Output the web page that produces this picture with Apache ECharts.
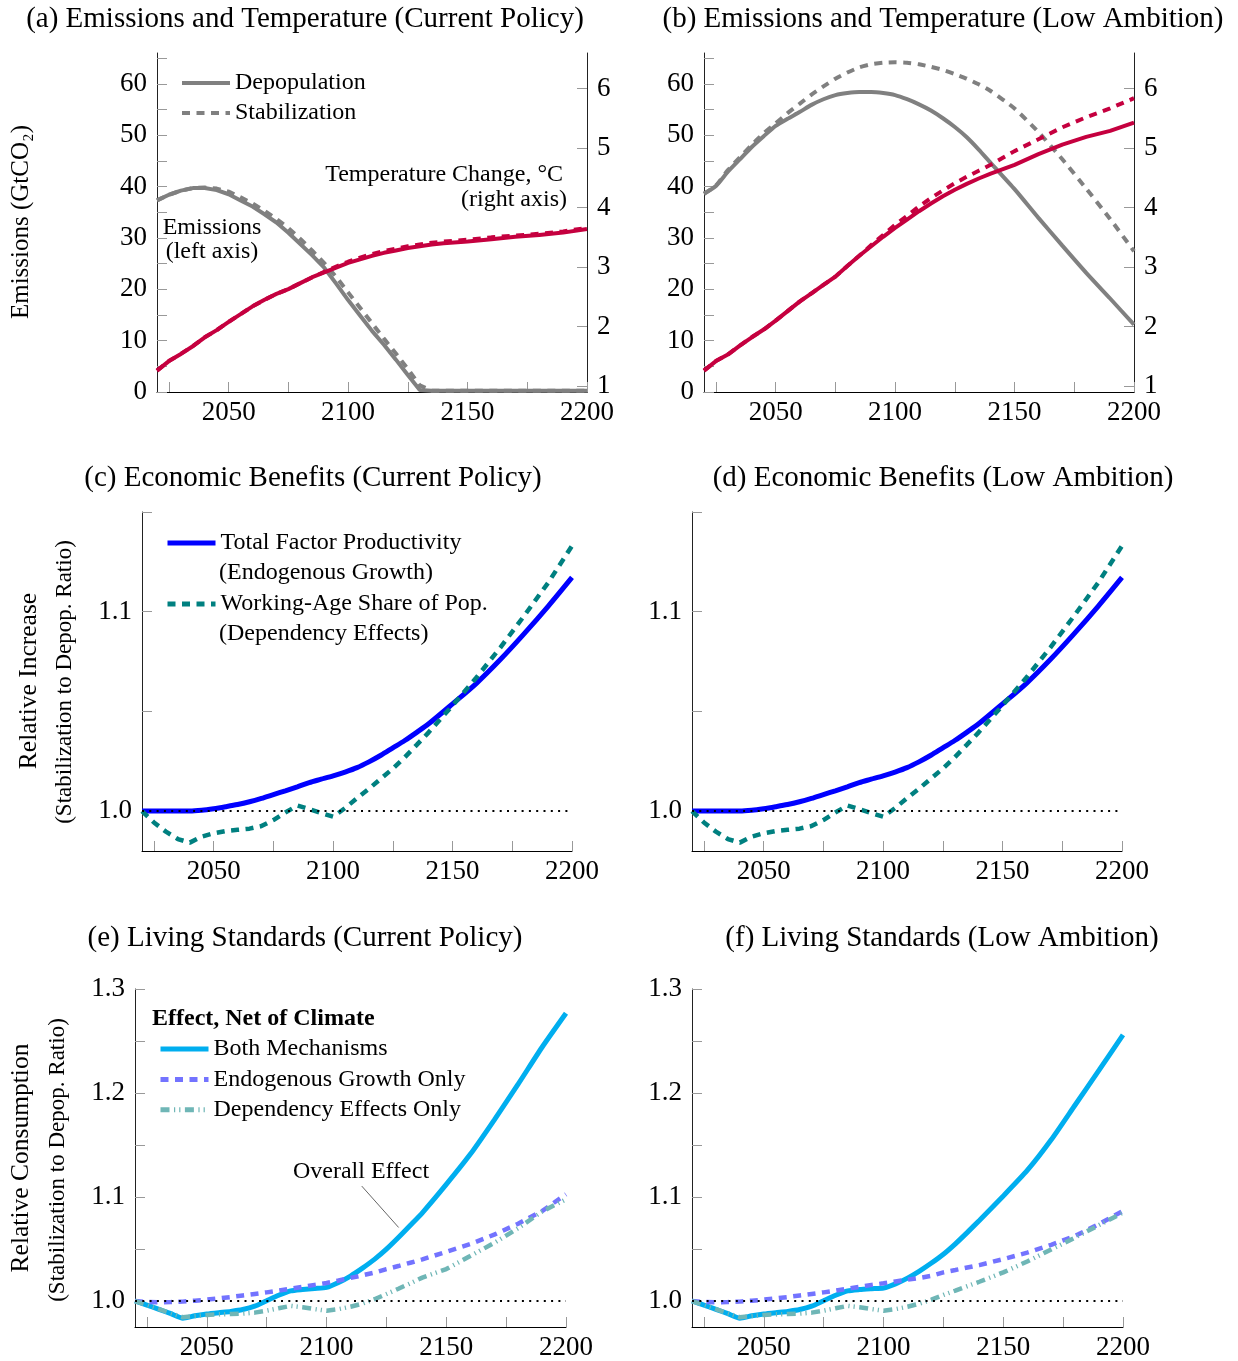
<!DOCTYPE html>
<html>
<head>
<meta charset="utf-8">
<title>Emissions, Economic Benefits and Living Standards</title>
<script src="https://cdn.jsdelivr.net/npm/echarts@6.0.0/dist/echarts.min.js"></script>
<style>
  html, body { margin: 0; padding: 0; background: #fff; }
  #chart { width: 1238px; height: 1361px; }
</style>
</head>
<body>
<div id="chart"></div>
<script>
// years shared by every panel
const years = [2020, 2025, 2030, 2035, 2040, 2045, 2050, 2055, 2060, 2065, 2070, 2075, 2080,
  2085, 2090, 2095, 2100, 2105, 2110, 2115, 2120, 2125, 2130, 2135, 2140,
  2150, 2160, 2170, 2180, 2190, 2200];

// (a) current policy: emissions (GtCO2) and temperature (°C)
const emisDepopA = [37.3, 38.4, 39.2, 39.7, 39.7, 39.3, 38.5, 37.3, 36.1, 34.6, 33.0, 31.0, 28.8,
  26.6, 24.2, 21.1, 17.9, 14.9, 11.9, 9.2, 6.3, 3.3, 0.4, 0.25, 0.25,
  0.25, 0.25, 0.25, 0.25, 0.25, 0.25];
const emisStabA = [37.3, 38.4, 39.2, 39.7, 39.8, 39.6, 39.0, 37.9, 36.7, 35.3, 33.7, 31.9, 29.8,
  27.5, 25.1, 22.4, 19.4, 16.4, 13.4, 10.4, 7.5, 4.5, 1.3, 0.25, 0.25,
  0.25, 0.25, 0.25, 0.25, 0.25, 0.25];
const tempDepopA = [1.26, 1.42, 1.54, 1.67, 1.82, 1.94, 2.08, 2.21, 2.34, 2.45, 2.55, 2.63, 2.73,
  2.83, 2.91, 2.99, 3.07, 3.13, 3.19, 3.24, 3.28, 3.32, 3.35, 3.38, 3.40,
  3.43, 3.47, 3.51, 3.54, 3.58, 3.64];
const tempStabA = [1.26, 1.42, 1.54, 1.67, 1.82, 1.94, 2.08, 2.21, 2.34, 2.45, 2.55, 2.63, 2.73,
  2.83, 2.92, 3.01, 3.09, 3.16, 3.22, 3.27, 3.31, 3.35, 3.38, 3.41, 3.43,
  3.46, 3.50, 3.53, 3.56, 3.60, 3.66];

// (b) low ambition
const emisDepopB = [38.6, 40.1, 42.9, 45.3, 47.7, 49.8, 51.8, 53.2, 54.5, 55.9, 57.0, 57.8, 58.2,
  58.4, 58.4, 58.2, 57.8, 57.0, 56.0, 54.8, 53.3, 51.6, 49.6, 47.2, 44.6,
  39.5, 33.9, 28.5, 23.2, 18.2, 13.1];
const emisStabB = [38.6, 40.2, 43.2, 45.7, 48.1, 50.4, 52.3, 54.3, 56.1, 57.9, 59.5, 61.0, 62.2,
  63.2, 63.8, 64.1, 64.2, 64.1, 63.8, 63.3, 62.7, 61.9, 61.0, 59.9, 58.6,
  55.2, 50.6, 45.3, 39.6, 33.7, 27.4];
const tempDepopB = [1.26, 1.42, 1.53, 1.68, 1.82, 1.95, 2.10, 2.26, 2.42, 2.56, 2.70, 2.84, 3.02,
  3.19, 3.35, 3.51, 3.66, 3.80, 3.94, 4.07, 4.19, 4.30, 4.40, 4.49, 4.57,
  4.72, 4.90, 5.06, 5.19, 5.29, 5.43];
const tempStabB = [1.26, 1.42, 1.53, 1.68, 1.82, 1.95, 2.10, 2.26, 2.42, 2.56, 2.70, 2.84, 3.02,
  3.19, 3.37, 3.54, 3.71, 3.86, 4.02, 4.16, 4.29, 4.41, 4.52, 4.62, 4.72,
  4.95, 5.15, 5.35, 5.52, 5.67, 5.84];

// (c) / (d) economic benefits, ratio stabilization / depopulation
const tfpC = [1.0000, 1.0000, 1.0000, 1.0000, 1.0000, 1.0004, 1.0012, 1.0022, 1.0033, 1.0047, 1.0064, 1.0083, 1.0102,
  1.0122, 1.0143, 1.0160, 1.0177, 1.0196, 1.0218, 1.0247, 1.0280, 1.0317, 1.0354, 1.0395, 1.0438,
  1.0538, 1.0641, 1.0760, 1.0890, 1.1027, 1.1172];
const workC = [1.0000, 0.9943, 0.9897, 0.9860, 0.9842, 0.9872, 0.9889, 0.9900, 0.9906, 0.9912, 0.9925, 0.9955, 0.9993,
  1.0028, 1.0010, 0.9990, 0.9972, 1.0015, 1.0065, 1.0112, 1.0163, 1.0213, 1.0270, 1.0332, 1.0395,
  1.0530, 1.0670, 1.0820, 1.0980, 1.1145, 1.1330];
const tfpD = [1.0000, 1.0000, 1.0000, 1.0000, 1.0000, 1.0004, 1.0012, 1.0022, 1.0033, 1.0047, 1.0064, 1.0083, 1.0102,
  1.0122, 1.0143, 1.0160, 1.0177, 1.0196, 1.0218, 1.0247, 1.0280, 1.0317, 1.0354, 1.0395, 1.0438,
  1.0538, 1.0641, 1.0760, 1.0890, 1.1027, 1.1172];
const workD = [1.0000, 0.9943, 0.9897, 0.9860, 0.9842, 0.9872, 0.9889, 0.9900, 0.9906, 0.9912, 0.9925, 0.9955, 0.9993,
  1.0028, 1.0010, 0.9990, 0.9972, 1.0015, 1.0065, 1.0112, 1.0163, 1.0213, 1.0270, 1.0332, 1.0395,
  1.0530, 1.0670, 1.0820, 1.0980, 1.1145, 1.1330];

// (e) / (f) living standards, relative consumption
const bothE = [1.0000, 0.9960, 0.9920, 0.9878, 0.9835, 0.9858, 0.9875, 0.9888, 0.9900, 0.9918, 0.9950, 1.0003, 1.0055,
  1.0097, 1.0110, 1.0120, 1.0131, 1.0178, 1.0240, 1.0316, 1.0400, 1.0498, 1.0610, 1.0728, 1.0848,
  1.1121, 1.1410, 1.1740, 1.2085, 1.2440, 1.2767];
const endoE = [1.0000, 0.9990, 0.9987, 0.9990, 0.9994, 1.0003, 1.0013, 1.0025, 1.0038, 1.0053, 1.0068, 1.0083, 1.0100,
  1.0119, 1.0137, 1.0155, 1.0173, 1.0197, 1.0222, 1.0247, 1.0273, 1.0307, 1.0336, 1.0368, 1.0400,
  1.0473, 1.0547, 1.0638, 1.0743, 1.0865, 1.1026];
const depE = [1.0000, 0.9961, 0.9922, 0.9882, 0.9843, 0.9855, 0.9866, 0.9871, 0.9876, 0.9879, 0.9888, 0.9907, 0.9930,
  0.9953, 0.9940, 0.9922, 0.9907, 0.9922, 0.9945, 0.9975, 1.0017, 1.0067, 1.0118, 1.0170, 1.0225,
  1.0307, 1.0432, 1.0558, 1.0700, 1.0860, 1.0978];
const bothF = [1.0000, 0.9960, 0.9920, 0.9878, 0.9835, 0.9858, 0.9875, 0.9888, 0.9900, 0.9918, 0.9950, 1.0003, 1.0055,
  1.0097, 1.0110, 1.0118, 1.0125, 1.0165, 1.0220, 1.0288, 1.0365, 1.0450, 1.0550, 1.0660, 1.0775,
  1.1010, 1.1255, 1.1550, 1.1885, 1.2220, 1.2559];
const endoF = [1.0000, 0.9990, 0.9987, 0.9990, 0.9994, 1.0003, 1.0013, 1.0025, 1.0038, 1.0053, 1.0068, 1.0083, 1.0100,
  1.0119, 1.0137, 1.0155, 1.0170, 1.0188, 1.0205, 1.0222, 1.0242, 1.0275, 1.0298, 1.0322, 1.0345,
  1.0403, 1.0465, 1.0540, 1.0625, 1.0740, 1.0866];
const depF = [1.0000, 0.9961, 0.9922, 0.9882, 0.9843, 0.9855, 0.9866, 0.9871, 0.9876, 0.9879, 0.9888, 0.9907, 0.9930,
  0.9953, 0.9940, 0.9922, 0.9907, 0.9922, 0.9945, 0.9975, 1.0013, 1.0058, 1.0100, 1.0143, 1.0185,
  1.0275, 1.0380, 1.0495, 1.0610, 1.0730, 1.0850];

// ticks and labels
const xTicks = [2025, 2050, 2075, 2100, 2125, 2150, 2175, 2200];
const xLabels = [2050, 2100, 2150, 2200];
const emisTicks = [0, 5, 10, 15, 20, 25, 30, 35, 40, 45, 50, 55, 60, 65];
const emisLabels = [0, 10, 20, 30, 40, 50, 60];
const tempTicks = [1, 2, 3, 4, 5, 6];
const benefitTicks = [1.0, 1.05, 1.1, 1.15];
const benefitLabels = [1.0, 1.1];
const consTicks = [1.0, 1.05, 1.1, 1.15, 1.2, 1.25, 1.3];
const consLabels = [1.0, 1.1, 1.2, 1.3];
const baseline = 1.0;
// arrow of the "Overall Effect" note, in data units of panel (e)
const arrowFrom = [2114.7, 1.1105];
const arrowTo = [2130.1, 1.0707];

const FONT = '"Liberation Serif", "DejaVu Serif", serif';
const GRAY = '#808080';
const RED = '#c5003f';
const BLUE = '#0000ff';
const TEAL = '#008080';
const CYAN = '#00aeef';
const LILAC = '#7373ff';
const LTEAL = '#6fb6b6';
const DASH = [8, 6.5];
const DASHDOT = [9, 4.5, 1.2, 4, 1.2, 4.5];

const pairs = vals => years.map((y, i) => [y, vals[i]]);

const fmt1 = v => v.toFixed(1);
const fmt0 = v => String(v);

function xAxisFor(gridIndex) {
  return {
    type: 'value', gridIndex, min: 2020, max: 2200,
    axisLine: { show: true, onZero: false, lineStyle: { color: '#000', width: 1 } },
    axisTick: { show: true, inside: true, length: 10, customValues: xTicks, lineStyle: { color: '#999' } },
    axisLabel: { customValues: xLabels, margin: 7, fontFamily: FONT, fontSize: 27, color: '#000', formatter: fmt0 },
    splitLine: { show: false }
  };
}

function yAxisFor(gridIndex, min, max, ticks, labels, fmt, position) {
  return {
    type: 'value', gridIndex, min, max, position: position || 'left',
    axisLine: { show: true, onZero: false, lineStyle: { color: '#222', width: 1 } },
    axisTick: { show: true, inside: true, length: 10, customValues: ticks, lineStyle: { color: '#999' } },
    axisLabel: { customValues: labels, margin: 10, fontFamily: FONT, fontSize: 27, color: '#000', formatter: fmt },
    splitLine: { show: false }
  };
}

function line(name, vals, xi, yi, color, width, type, extra) {
  return Object.assign({
    type: 'line', name, data: pairs(vals), xAxisIndex: xi, yAxisIndex: yi,
    symbol: 'none', showSymbol: false, animation: false, silent: true,
    lineStyle: { color, width, type: type || 'solid' },
    itemStyle: { color }
  }, extra || {});
}

const dotted = {
  silent: true, symbol: 'none', animation: false,
  label: { show: false },
  lineStyle: { color: '#000', width: 2, type: [2, 5.3] },
  data: [{ yAxis: baseline }]
};

function txt(x, y, text, size, align, extra) {
  const a = align || 'center';
  return Object.assign({
    type: 'text', x, y, silent: true,
    style: {
      text, fontFamily: FONT, fontSize: size, fill: '#000',
      align: a, textAlign: a, verticalAlign: 'middle', textVerticalAlign: 'middle'
    }
  }, extra || {});
}
function vtxt(x, y, text, size) {
  return txt(x, y, text, size, 'center', { rotation: Math.PI / 2 });
}

const legendText = { fontFamily: FONT, fontSize: 24, color: '#000' };
// legend samples are plain lines: hide the marker ECharts puts in the middle
const noMarker = { opacity: 0 };

const option = {
  animation: false,
  backgroundColor: '#fff',
  grid: [
    { left: 157, top: 53, width: 430, height: 339 },
    { left: 704, top: 53, width: 430, height: 339 },
    { left: 142, top: 512, width: 430, height: 339 },
    { left: 692, top: 512, width: 430, height: 339 },
    { left: 135, top: 989, width: 431, height: 339 },
    { left: 692, top: 989, width: 431, height: 339 }
  ],
  xAxis: [0, 1, 2, 3, 4, 5].map(xAxisFor),
  yAxis: [
    yAxisFor(0, 0, 66, emisTicks, emisLabels, fmt0),
    yAxisFor(0, 0.9, 6.6, tempTicks, tempTicks, fmt0, 'right'),
    yAxisFor(1, 0, 66, emisTicks, emisLabels, fmt0),
    yAxisFor(1, 0.9, 6.6, tempTicks, tempTicks, fmt0, 'right'),
    yAxisFor(2, 0.98, 1.15, benefitTicks, benefitLabels, fmt1),
    yAxisFor(3, 0.98, 1.15, benefitTicks, benefitLabels, fmt1),
    yAxisFor(4, 0.975, 1.3, consTicks, consLabels, fmt1),
    yAxisFor(5, 0.975, 1.3, consTicks, consLabels, fmt1)
  ],
  legend: [
    {
      orient: 'vertical', left: 180, top: 71, padding: 0, itemGap: 6,
      itemWidth: 48, itemHeight: 14, selectedMode: false,
      data: ['Depopulation', 'Stabilization'],
      textStyle: legendText, lineStyle: { width: 4 }, itemStyle: noMarker
    },
    {
      orient: 'vertical', left: 165, top: 531, padding: 0, itemGap: 37,
      itemWidth: 48, itemHeight: 14, selectedMode: false,
      data: ['Total Factor Productivity', 'Working-Age Share of Pop.'],
      textStyle: legendText, lineStyle: { width: 5 }, itemStyle: noMarker
    },
    {
      orient: 'vertical', left: 158, top: 1037, padding: 0, itemGap: 6.4,
      itemWidth: 48, itemHeight: 14, selectedMode: false,
      data: ['Both Mechanisms', 'Endogenous Growth Only', 'Dependency Effects Only'],
      textStyle: legendText, lineStyle: { width: 5 }, itemStyle: noMarker
    }
  ],
  series: [
    // (a)
    line('Depopulation', emisDepopA, 0, 0, GRAY, 4),
    line('Stabilization', emisStabA, 0, 0, GRAY, 4, DASH),
    line('Depopulation', tempDepopA, 0, 1, RED, 4),
    line('Stabilization', tempStabA, 0, 1, RED, 4, DASH),
    // (b)
    line('Depopulation', emisDepopB, 1, 2, GRAY, 4, 'solid', { smooth: 0.2 }),
    line('Stabilization', emisStabB, 1, 2, GRAY, 4, DASH, { smooth: 0.2 }),
    line('Depopulation', tempDepopB, 1, 3, RED, 4),
    line('Stabilization', tempStabB, 1, 3, RED, 4, DASH),
    // (c)
    line('Total Factor Productivity', tfpC, 2, 4, BLUE, 5, 'solid', { smooth: 0.3, markLine: dotted }),
    line('Working-Age Share of Pop.', workC, 2, 4, TEAL, 4.5, DASH),
    // (d)
    line('Total Factor Productivity', tfpD, 3, 5, BLUE, 5, 'solid', { smooth: 0.3, markLine: dotted }),
    line('Working-Age Share of Pop.', workD, 3, 5, TEAL, 4.5, DASH),
    // (e)
    line('Both Mechanisms', bothE, 4, 6, CYAN, 5, 'solid', {
      smooth: 0.2,
      markLine: {
        silent: true, animation: false, symbol: ['none', 'arrow'], symbolSize: [0, 8],
        label: { show: false },
        lineStyle: { color: '#666', width: 1, type: 'solid' },
        data: [[{ coord: arrowFrom }, { coord: arrowTo }]]
      }
    }),
    line('Endogenous Growth Only', endoE, 4, 6, LILAC, 4.5, DASH, { markLine: dotted }),
    line('Dependency Effects Only', depE, 4, 6, LTEAL, 4.5, DASHDOT),
    // (f)
    line('Both Mechanisms', bothF, 5, 7, CYAN, 5, 'solid', { smooth: 0.2 }),
    line('Endogenous Growth Only', endoF, 5, 7, LILAC, 4.5, DASH, { markLine: dotted }),
    line('Dependency Effects Only', depF, 5, 7, LTEAL, 4.5, DASHDOT)
  ],
  graphic: [
    txt(305, 19, '(a) Emissions and Temperature (Current Policy)', 29),
    txt(943, 19, '(b) Emissions and Temperature (Low Ambition)', 29),
    txt(313, 478, '(c) Economic Benefits (Current Policy)', 29),
    txt(943, 478, '(d) Economic Benefits (Low Ambition)', 29),
    txt(305, 938, '(e) Living Standards (Current Policy)', 29),
    txt(942, 938, '(f) Living Standards (Low Ambition)', 29),
    vtxt(21, 222, 'Emissions (GtCO\u2082)', 25),
    vtxt(29, 681, 'Relative Increase', 25.5),
    vtxt(65, 682, '(Stabilization to Depop. Ratio)', 23),
    vtxt(21, 1158, 'Relative Consumption', 25.5),
    vtxt(58, 1160, '(Stabilization to Depop. Ratio)', 23),
    txt(212, 228, 'Emissions', 24),
    txt(212, 252, '(left axis)', 24),
    txt(563, 175, 'Temperature Change, \u00b0C', 24, 'right'),
    txt(567, 200, '(right axis)', 24, 'right'),
    txt(219, 573, '(Endogenous Growth)', 24, 'left'),
    txt(219, 634, '(Dependency Effects)', 24, 'left'),
    txt(152, 1019, 'Effect, Net of Climate', 24, 'left'),
    txt(361, 1172, 'Overall Effect', 24)
  ]
};
// bold header of legend (e)
option.graphic[17].style.fontWeight = 'bold';

const chart = echarts.init(document.getElementById('chart'), null, { renderer: 'canvas' });
chart.setOption(option);
</script>
</body>
</html>
